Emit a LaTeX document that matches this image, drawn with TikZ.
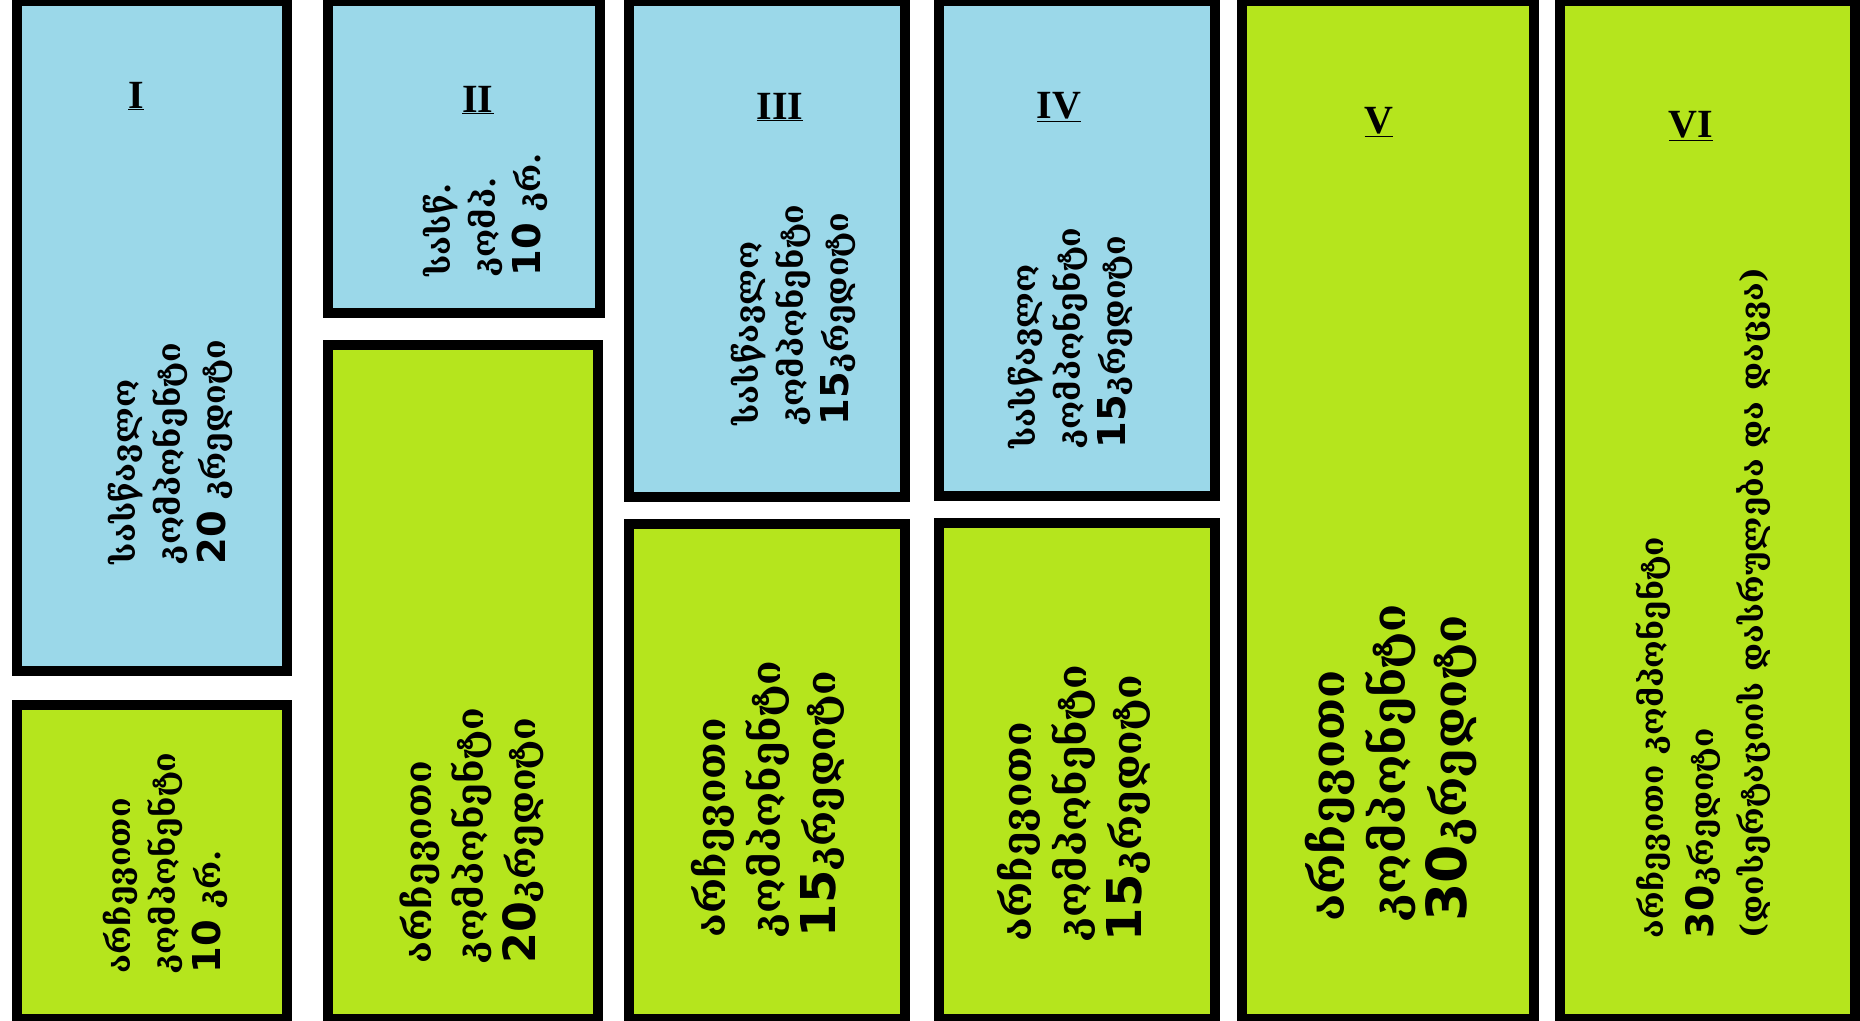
\documentclass[tikz,border=0pt]{standalone}
\usepackage{fontspec}
\setmainfont{DejaVu Serif}
\newfontfamily\numfont{DejaVu Sans}
\newfontfamily\romfont{Liberation Serif}
\newcommand{\bnum}[1]{\scalebox{1.2}{\numfont\bfseries #1}}
\definecolor{boxblue}{RGB}{155,216,233}
\definecolor{boxgreen}{RGB}{181,229,29}

\begin{document}
\begin{tikzpicture}[line join=miter,x=1pt,y=-1pt,
    frame/.style={draw=black,line width=10pt},
    bluebox/.style={frame,fill=boxblue},
    greenbox/.style={frame,fill=boxgreen},
    vtext/.style={rotate=90,align=left,inner sep=0pt},
    sz1/.style={font=\fontsize{32}{45}\selectfont\bfseries},
    sz2/.style={font=\fontsize{37}{52}\selectfont\bfseries},
    sz3/.style={font=\fontsize{40}{55}\selectfont\bfseries},
    sz5/.style={font=\fontsize{46}{61}\selectfont\bfseries},
    sz6/.style={font=\fontsize{31.5}{50}\selectfont\bfseries},
    roman/.style={inner sep=0pt,font=\fontsize{40}{40}\selectfont\romfont\bfseries}]
  \useasboundingbox (0,0) rectangle (1860,1020);
  \clip (0,0) rectangle (1860,1020);
  % column I
  \draw [bluebox] (17,1) rectangle (287,671);
  \draw [greenbox] (17,705) rectangle (287,1019);
  % column II
  \draw [bluebox] (328,1) rectangle (600,313);
  \draw [greenbox] (328,345) rectangle (598,1019);
  % column III
  \draw [bluebox] (629,1) rectangle (905,497);
  \draw [greenbox] (629,524) rectangle (905,1019);
  % column IV
  \draw [bluebox] (939,1) rectangle (1215,496);
  \draw [greenbox] (939,523) rectangle (1215,1019);
  % columns V and VI
  \draw [greenbox] (1242,1) rectangle (1534,1019);
  \draw [greenbox] (1560,1) rectangle (1855,1019);

  \node [roman] (r1) at (136,96) {\underline{I}};
  \node [roman] (r2) at (478,100) {\underline{II}};
  \node [roman] (r3) at (780,107) {\underline{III}};
  \node [roman] (r4) at (1059,107) {\underline{IV}};
  \node [roman] (r5) at (1379,122) {\underline{V}};
  \node [roman] (r6) at (1691,126) {\underline{VI}};

  \node [vtext,sz1] (t1b) at (170,452) {სასწავლო\\კომპონენტი\\\bnum{20} კრედიტი};
  \node [vtext,sz1] (t1g) at (165,863) {არჩევითი\\კომპონენტი\\\bnum{10} კრ.};
  \node [vtext,sz1] (t2b) at (485,215) {სასწ.\\კომპ.\\\bnum{10} კრ.};
  \node [vtext,sz2] (t2g) at (472,836) {არჩევითი\\კომპონენტი\\\bnum{20}კრედიტი};
  \node [vtext,sz1] (t3b) at (793,315) {სასწავლო\\კომპონენტი\\\bnum{15}კრედიტი};
  \node [vtext,sz3] (t3g) at (768,799) {არჩევითი\\კომპონენტი\\\bnum{15}კრედიტი};
  \node [vtext,sz1] (t4b) at (1070,338) {სასწავლო\\კომპონენტი\\\bnum{15}კრედიტი};
  \node [vtext,sz3] (t4g) at (1074,803) {არჩევითი\\კომპონენტი\\\bnum{15}კრედიტი};
  \node [vtext,sz5] (t5) at (1391,763) {არჩევითი\\კომპონენტი\\\bnum{30}კრედიტი};
  \node [vtext,sz6] (t6) at (1703,603) {არჩევითი კომპონენტი\\\bnum{30}კრედიტი\\(დისერტაციის დასრულება და დაცვა)};
\end{tikzpicture}
\end{document}
